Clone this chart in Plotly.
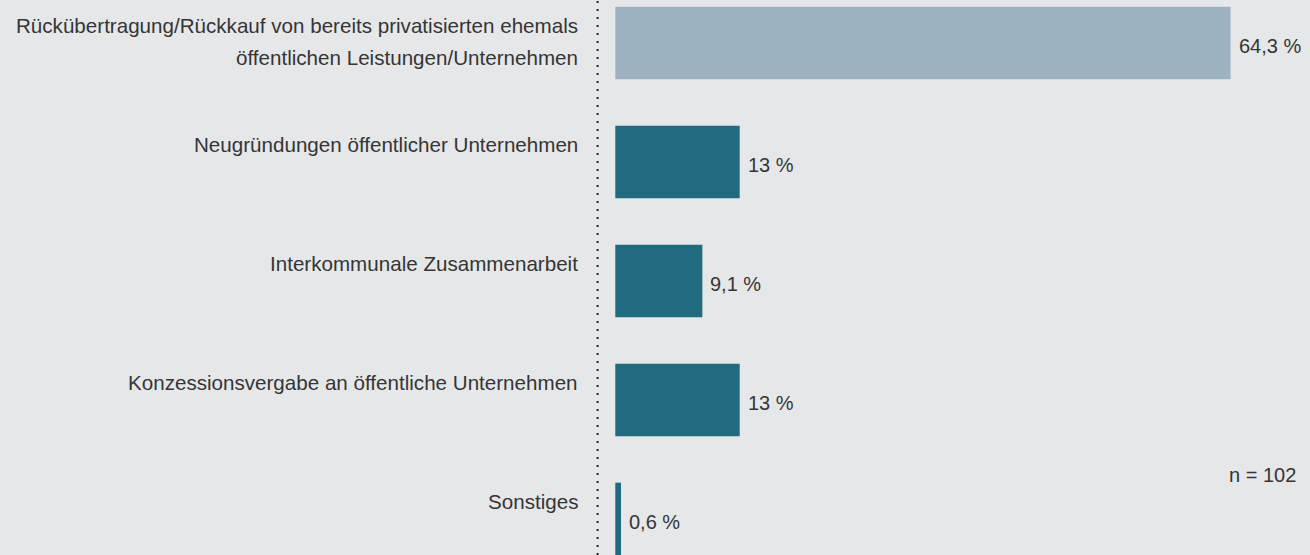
import plotly.graph_objects as go

categories = [
    "Rückübertragung/Rückkauf von bereits privatisierten ehemals<br>öffentlichen Leistungen/Unternehmen",
    "Neugründungen öffentlicher Unternehmen",
    "Interkommunale Zusammenarbeit",
    "Konzessionsvergabe an öffentliche Unternehmen",
    "Sonstiges",
]
values = [64.3, 13, 9.1, 13, 0.6]
value_labels = ["64,3 %", "13 %", "9,1 %", "13 %", "0,6 %"]
bar_colors = ["#9eb3c1", "#216b81", "#216b81", "#216b81", "#216b81"]
n_text = "n = 102"

FONT = "Liberation Sans, Arial, sans-serif"
TEXT_COLOR = "#353535"
BG = "#e6e7e9"

positions = list(range(len(categories)))

fig = go.Figure(
    data=go.Bar(
        x=values,
        y=positions,
        orientation="h",
        width=0.61,
        marker=dict(color=bar_colors, line=dict(width=0)),
        hoverinfo="skip",
    )
)

# category labels, top aligned with the bars (one annotation per line)
for pos, label in zip(positions, categories):
    for k, line in enumerate(label.split("<br>")):
        fig.add_annotation(
            x=-3.64, y=pos - 0.305, xref="x", yref="y",
            text=line, showarrow=False,
            xanchor="right", yanchor="top", align="right",
            yshift=-5 - 32 * k,
            font=dict(family=FONT, size=20.6, color=TEXT_COLOR),
        )

# value labels next to the bar end
for pos, val, lab in zip(positions, values, value_labels):
    fig.add_annotation(
        x=val, y=pos, xref="x", yref="y",
        text=lab, showarrow=False,
        xanchor="left", yanchor="middle",
        xshift=6, yshift=-3,
        font=dict(family=FONT, size=20, color=TEXT_COLOR),
    )

fig.add_annotation(
    x=0.991, y=0.145, xref="paper", yref="paper",
    text=n_text, showarrow=False,
    xanchor="right", yanchor="middle",
    font=dict(family=FONT, size=20, color=TEXT_COLOR),
)

# dotted separator
fig.add_shape(
    type="line", xref="x", yref="paper",
    x0=-1.85, x1=-1.85, y0=0, y1=1,
    line=dict(color="#222222", width=2, dash="2px,6px"),
)

fig.update_layout(
    width=1310,
    height=555,
    margin=dict(l=0, r=0, t=0, b=0),
    paper_bgcolor=BG,
    plot_bgcolor=BG,
    showlegend=False,
    xaxis=dict(range=[-64.3, 72.6], visible=False, fixedrange=True),
    yaxis=dict(range=[4.303, -0.361], visible=False, fixedrange=True),
)

fig.write_html(
    "out.html",
    config=dict(displayModeBar=False),
    post_script="document.body.style.margin='0';",
)
